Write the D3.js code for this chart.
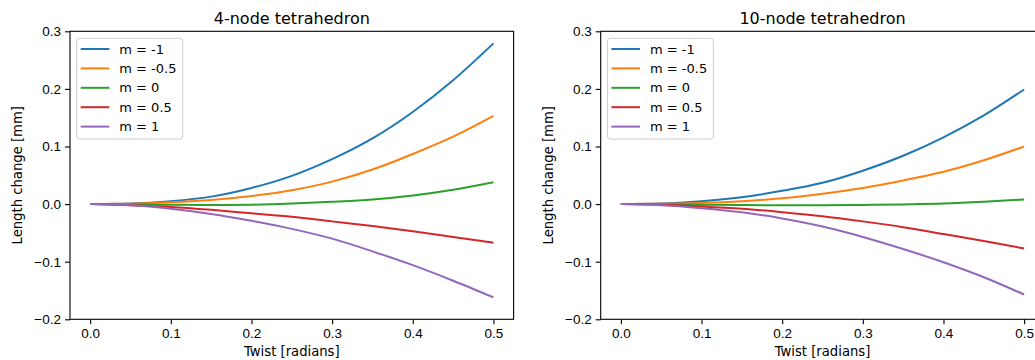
<!DOCTYPE html>
<html>
<head>
    <meta charset="utf-8">
    <title>Tetrahedron twist</title>
    <script src="https://cdn.jsdelivr.net/npm/d3@7"></script>
    <style>
        html, body {
            margin: 0;
            background-color: #fff;
        }
        svg {
            font-family: "DejaVu Sans", sans-serif;
            display: block;
        }
        .tick text {
            font-size: 13.5px;
            fill: #000;
        }
        .tick line {
            stroke: #000;
            stroke-width: 1.1;
        }
        .title { font-size: 16px; text-anchor: middle; }
        .label { font-size: 13.2px; text-anchor: middle; }
        .legend text { font-size: 13px; }
    </style>
</head>
<body>
<svg></svg>
<script>
    // twist angles [radians]
    var twist = [0, 0.05, 0.1, 0.15, 0.2, 0.25, 0.3, 0.35, 0.4, 0.45, 0.5];

    var mLabels = ['m = -1', 'm = -0.5', 'm = 0', 'm = 0.5', 'm = 1'];
    var colors  = ['#1f77b4', '#ff7f0e', '#2ca02c', '#d62728', '#9467bd'];

    var xTicks = [0, 0.1, 0.2, 0.3, 0.4, 0.5];
    var yTicks = [-0.2, -0.1, 0, 0.1, 0.2, 0.3];

    // 4-node tetrahedron, length change [mm]
    var node4 = [
        [0, 0.001, 0.005, 0.013, 0.028, 0.049, 0.078, 0.114, 0.160, 0.215, 0.279],
        [0, 0.0005, 0.003, 0.007, 0.014, 0.024, 0.039, 0.060, 0.087, 0.117, 0.153],
        [0, -0.0005, -0.001, -0.0015, -0.001, 0.001, 0.004, 0.008, 0.015, 0.025, 0.038],
        [0, -0.002, -0.005, -0.010, -0.016, -0.022, -0.030, -0.038, -0.047, -0.057, -0.067],
        [0, -0.002, -0.008, -0.017, -0.029, -0.043, -0.060, -0.082, -0.106, -0.133, -0.162]
    ];

    // 10-node tetrahedron
    var node10 = [
        [0, 0.001, 0.005, 0.012, 0.023, 0.037, 0.058, 0.084, 0.116, 0.154, 0.199],
        [0, 0.0005, 0.002, 0.005, 0.010, 0.018, 0.028, 0.041, 0.056, 0.076, 0.100],
        [0, -0.0005, -0.001, -0.0015, -0.002, -0.002, -0.0015, -0.0005, 0.001, 0.004, 0.008],
        [0, -0.001, -0.004, -0.008, -0.014, -0.021, -0.030, -0.040, -0.052, -0.064, -0.077],
        [0, -0.002, -0.007, -0.014, -0.025, -0.039, -0.057, -0.078, -0.101, -0.127, -0.157]
    ];

    var W = 1035, H = 360;
    var svg = d3.select('svg').attr('width', W).attr('height', H);

    function panel(left, title, series) {
        var top = 31.3, bottom = 319.3, width = 443.6;

        var x = d3.scaleLinear().domain([-0.025, 0.525]).range([left, left + width]);
        var y = d3.scaleLinear().domain([-0.2, 0.3]).range([bottom, top]);

        var g = svg.append('g');

        var line = d3.line()
            .x(function (d, i) { return x(twist[i]); })
            .y(function (d) { return y(d); })
            .curve(d3.curveMonotoneX);

        series.forEach(function (s, k) {
            g.append('path')
                .attr('d', line(s))
                .attr('fill', 'none')
                .attr('stroke', colors[k])
                .attr('stroke-width', 2);
        });

        // frame
        g.append('rect')
            .attr('x', left).attr('y', top)
            .attr('width', width).attr('height', bottom - top)
            .attr('fill', 'none')
            .attr('stroke', '#000')
            .attr('stroke-width', 1.1);

        var xa = g.append('g')
            .attr('transform', 'translate(0,' + bottom + ')')
            .call(d3.axisBottom(x).tickValues(xTicks).tickFormat(d3.format('.1f'))
                .tickSize(5).tickPadding(4));
        xa.select('.domain').remove();

        var ya = g.append('g')
            .attr('transform', 'translate(' + left + ',0)')
            .call(d3.axisLeft(y).tickValues(yTicks).tickFormat(d3.format('.1f'))
                .tickSize(5).tickPadding(4));
        ya.select('.domain').remove();
        g.selectAll('.tick text').attr('font-family', null).attr('font-size', null);

        g.append('text')
            .attr('class', 'title')
            .attr('x', left + width / 2).attr('y', 24)
            .text(title);

        g.append('text')
            .attr('class', 'label')
            .attr('x', left + width / 2).attr('y', 355.5)
            .text('Twist [radians]');

        g.append('text')
            .attr('class', 'label')
            .attr('transform', 'translate(' + (left - 48) + ',' + ((top + bottom) / 2) + ')rotate(-90)')
            .text('Length change [mm]');

        // legend
        var lg = g.append('g')
            .attr('class', 'legend')
            .attr('transform', 'translate(' + (left + 6.7) + ',38.3)');

        lg.append('rect')
            .attr('width', 106).attr('height', 100.7)
            .attr('rx', 3)
            .attr('fill', '#fff').attr('fill-opacity', 0.8)
            .attr('stroke', '#ccc').attr('stroke-width', 1);

        mLabels.forEach(function (lab, k) {
            var ly = 10.7 + k * 19.4;
            lg.append('line')
                .attr('x1', 4).attr('x2', 32.6)
                .attr('y1', ly).attr('y2', ly)
                .attr('stroke', colors[k]).attr('stroke-width', 2);
            lg.append('text')
                .attr('x', 42.6).attr('y', ly + 4.7)
                .text(lab);
        });
    }

    panel(70, '4-node tetrahedron', node4);
    panel(600.7, '10-node tetrahedron', node10);
</script>
</body>
</html>
